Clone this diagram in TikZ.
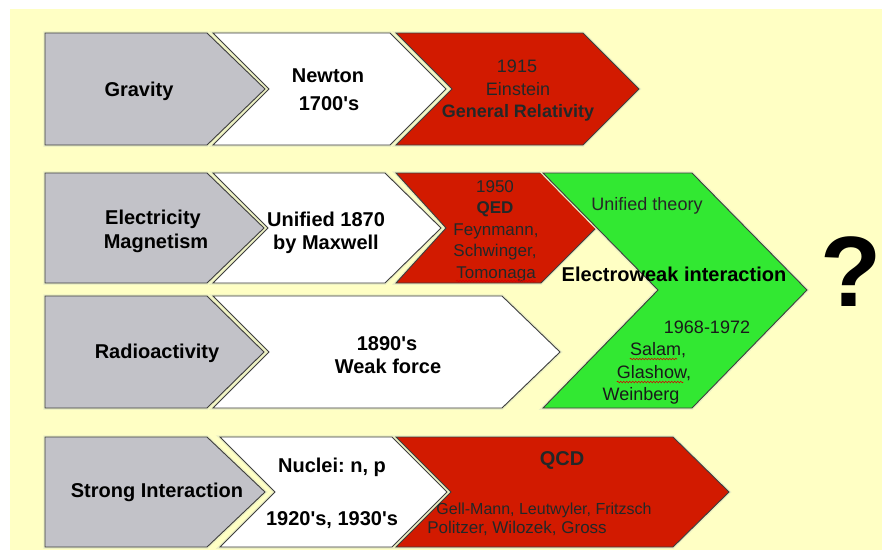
\documentclass[tikz,border=0pt]{standalone}
\usepackage{fontspec}
\setmainfont{Liberation Sans}
\usetikzlibrary{decorations.pathmorphing}
\definecolor{bgyellow}{RGB}{255,255,196}
\definecolor{chgrey}{RGB}{194,194,200}
\definecolor{chred}{RGB}{210,26,0}
\definecolor{chgreen}{RGB}{50,232,50}
\definecolor{edgec}{RGB}{62,62,62}
\definecolor{haloc}{RGB}{236,240,196}
\definecolor{darktxt}{RGB}{34,40,40}
\newcommand\ap{\textquotesingle}
\frenchspacing
\tikzset{
  chev/.style={draw=edgec, line width=0.9pt, line join=miter,
    preaction={draw=haloc, line width=3.5pt}},
  gtxt/.style={anchor=base, inner sep=0pt, text=black, font=\bfseries\fontsize{20}{24}\selectfont},
  wtxt/.style={anchor=base, inner sep=0pt, text=black, font=\bfseries\fontsize{20}{24}\selectfont},
  rtxt/.style={anchor=base, inner sep=0pt, text=darktxt, font=\fontsize{18}{22}\selectfont},
  rbold/.style={rtxt, font=\bfseries\fontsize{18}{22}\selectfont},
  qtxt/.style={anchor=base, inner sep=0pt, text=darktxt, font=\fontsize{17}{21}\selectfont},
  qbold/.style={qtxt, font=\bfseries\fontsize{17}{21}\selectfont},
  wavy/.style={draw=red!85!black, line width=0.6pt, decorate,
    decoration={snake, amplitude=0.8pt, segment length=3pt}}
}
\begin{document}
\begin{tikzpicture}[x=1pt,y=-1pt]
\useasboundingbox (0,0) rectangle (882,550);
\fill[white] (0,0) rectangle (882,550);
\fill[bgyellow] (10,9) rectangle (882,550);

% Row 1: Gravity
\filldraw[chev, fill=chgrey] (45,33) -- (207,33) -- (265,89) -- (207,145) -- (45,145) -- cycle;
\filldraw[chev, fill=white] (213,33) -- (390,33) -- (446,89) -- (390,145) -- (213,145) -- (269,89) -- cycle;
\filldraw[chev, fill=chred] (396,33) -- (583,33) -- (639,89) -- (583,145) -- (396,145) -- (452,89) -- cycle;

% Row 2: Electricity / Magnetism
\filldraw[chev, fill=chgrey] (45,173) -- (207,173) -- (264,228) -- (207,283) -- (45,283) -- cycle;
\filldraw[chev, fill=white] (213,173) -- (385,173) -- (441,228) -- (385,283) -- (213,283) -- (268,228) -- cycle;
\filldraw[chev, fill=chred] (396,173) -- (541,173) -- (596,228) -- (541,283) -- (396,283) -- (446,228) -- cycle;

% Row 3: Radioactivity
\filldraw[chev, fill=chgrey] (45,296) -- (207,296) -- (264,352) -- (207,408) -- (45,408) -- cycle;
\filldraw[chev, fill=white] (213,296) -- (502,296) -- (560,352) -- (502,408) -- (213,408) -- (269,352) -- cycle;

% Electroweak (green)
\filldraw[chev, fill=chgreen] (543,173) -- (692,173) -- (807,290) -- (692,408) -- (543,408) -- (658,290) -- cycle;

% Row 4: Strong interaction
\filldraw[chev, fill=chgrey] (45,437) -- (207,437) -- (265,492) -- (207,547) -- (45,547) -- cycle;
\filldraw[chev, fill=white] (220,437) -- (392,437) -- (447,492) -- (392,547) -- (220,547) -- (275,492) -- cycle;
\filldraw[chev, fill=chred] (396,437) -- (673,437) -- (729,492) -- (673,547) -- (396,547) -- (451,492) -- cycle;

% Texts row 1
\node[gtxt] (grav) at (139,96) {Gravity};
\node[wtxt] (newton) at (328,82) {Newton};
\node[wtxt] (n1700) at (329,110) {1700\ap s};
\node[rtxt] (y1915) at (517,72) {1915};
\node[rtxt] (einst) at (518,95) {Einstein};
\node[rbold] (genrel) at (518,117) {General Relativity};

% Texts row 2
\node[gtxt] (elec) at (153,224) {Electricity};
\node[gtxt] (magn) at (156,248) {Magnetism};
\node[wtxt] (unif) at (326,226) {Unified 1870};
\node[wtxt] (maxw) at (326,249) {by Maxwell};
\node[qtxt] (y1950) at (495,192) {1950};
\node[qbold] (qed) at (495,213.5) {QED};
\node[qtxt] (feyn) at (496,235) {Feynmann,};
\node[qtxt] (schw) at (495,256.5) {Schwinger,};
\node[qtxt] (tomo) at (496,278) {Tomonaga};

% Green box
\node[rtxt, text=black!85] (uthe) at (647,210) {Unified theory};
\node[rtxt, text=black!90] (y1968) at (707,333) {1968-1972};
\node[rtxt, text=black!90] (salam) at (658,355) {Salam,};
\node[rtxt, text=black!90] (glash) at (654,378) {Glashow,};
\node[rtxt, text=black!90] (weinb) at (641,400) {Weinberg};

% Row 3
\node[gtxt] (radio) at (157,358) {Radioactivity};
\node[wtxt] (n1890) at (387,350) {1890\ap s};
\node[wtxt] (weak) at (388,373) {Weak force};

% Row 4
\node[gtxt] (strong) at (157,497) {Strong Interaction};
\node[wtxt] (nucl) at (332,472) {Nuclei: n, p};
\node[wtxt] (n1920) at (332,525) {1920\ap s, 1930\ap s};
\node[anchor=base, inner sep=0pt, text=darktxt, font=\bfseries\fontsize{20}{24}\selectfont] (qcd) at (562,465) {QCD};
\node[anchor=base, inner sep=0pt, text=darktxt, font=\fontsize{16}{20}\selectfont] (gell) at (544,514) {Gell-Mann, Leutwyler, Fritzsch};
\node[qtxt] (polit) at (517,533) {Politzer, Wilozek, Gross};

% Electroweak label on top
\node[wtxt] (ew) at (674,281) {Electroweak interaction};

% Question mark
\node[anchor=base, inner sep=0pt, font=\bfseries\fontsize{100}{106}\selectfont] (qm) at (851,306) {?};

% spell-check underlines
\draw[wavy] ([yshift=-3pt]tomo.base west) -- ([yshift=-3pt]tomo.base east);
\draw[wavy] ([yshift=-4pt]salam.base west) -- ([yshift=-4pt,xshift=-9pt]salam.base east);
\draw[wavy] ([yshift=-4pt]glash.base west) -- ([yshift=-4pt,xshift=-8pt]glash.base east);
\end{tikzpicture}
\end{document}
